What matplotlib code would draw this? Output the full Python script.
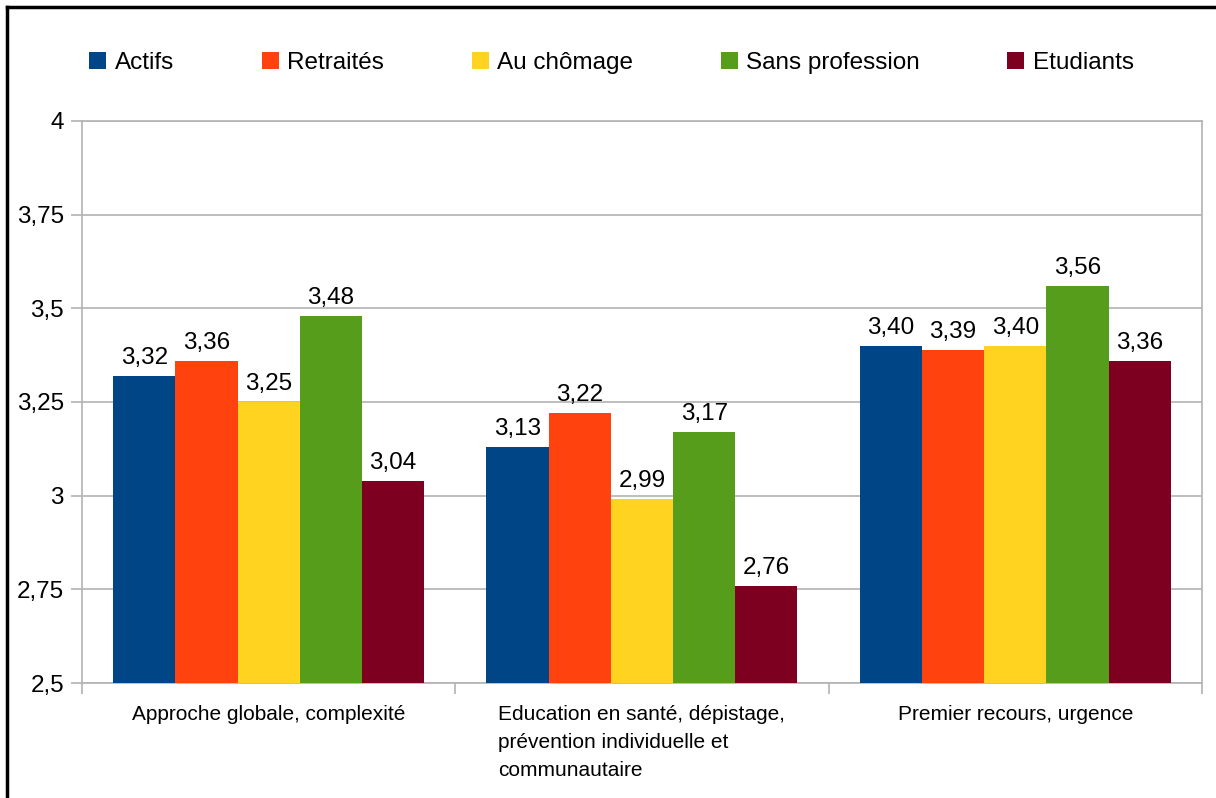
import matplotlib
matplotlib.use("Agg")
import matplotlib.pyplot as plt
import numpy as np
from matplotlib.lines import Line2D
from matplotlib.patches import Patch
from matplotlib.ticker import FixedLocator, FuncFormatter

plt.rcParams["font.family"] = ["Liberation Sans", "DejaVu Sans"]

# data
categories = [
    "Approche globale, complexité",
    "Education en santé, dépistage,\nprévention individuelle et\ncommunautaire",
    "Premier recours, urgence",
]
series_names = ["Actifs", "Retraités", "Au chômage", "Sans profession", "Etudiants"]
actifs = [3.32, 3.13, 3.40]
retraites = [3.36, 3.22, 3.39]
chomage = [3.25, 2.99, 3.40]
sans_profession = [3.48, 3.17, 3.56]
etudiants = [3.04, 2.76, 3.36]
y_ticks = [2.5, 2.75, 3, 3.25, 3.5, 3.75, 4]

series_values = [actifs, retraites, chomage, sans_profession, etudiants]
colors = ["#004586", "#ff420e", "#ffd320", "#579d1c", "#7e0021"]


def comma(v, pos=None):
    return ("%g" % v).replace(".", ",")


fig = plt.figure(figsize=(12.16, 7.98), dpi=100)
ax = fig.add_axes([0.0674, 0.1441, 0.921, 0.7043])

x = np.arange(len(categories))
n = len(series_names)
width = 1.0 / (n + 1)
for i, (name, vals) in enumerate(zip(series_names, series_values)):
    pos = x - 0.5 + width * (i + 1)
    bars = ax.bar(pos, vals, width=width, color=colors[i], label=name, zorder=3)
    for b, v in zip(bars, vals):
        ax.annotate(("%.2f" % v).replace(".", ","), (b.get_x() + b.get_width() / 2, v),
                    xytext=(0, 5), textcoords="offset points",
                    ha="center", va="bottom", fontsize=17.5, color="black")

ax.set_xlim(-0.5, len(categories) - 0.5)
ax.set_ylim(2.5, 4)
ax.yaxis.set_major_locator(FixedLocator(y_ticks))
ax.yaxis.set_major_formatter(FuncFormatter(comma))
ax.grid(axis="y", color="#b3b3b3", linewidth=1.2, zorder=0)

ax.set_xticks(x)
ax.set_xticklabels(categories, fontsize=15, multialignment="left", linespacing=1.6)
ax.set_xticks(np.arange(len(categories) + 1) - 0.5, minor=True)
ax.tick_params(axis="x", which="major", length=0, pad=16)
ax.tick_params(axis="x", which="minor", length=8, width=1.2, color="#b3b3b3")
ax.tick_params(axis="y", length=8, width=1.2, color="#b3b3b3", labelsize=17.5, pad=5)

for s in ax.spines.values():
    s.set_color("#b3b3b3")
    s.set_linewidth(1.2)

handles = [Patch(facecolor=c, edgecolor="none") for c in colors]
fig.legend(handles, series_names, loc="center", bbox_to_anchor=(0.503, 0.921),
           ncol=5, frameon=False, fontsize=17.5, handlelength=0.7, handleheight=0.7,
           handletextpad=0.35, columnspacing=3.6)

# frame of the original picture (top and left edges)
fig.add_artist(Line2D([0.0055, 1.0], [0.9915, 0.9915], transform=fig.transFigure,
                      color="black", linewidth=2.5))
fig.add_artist(Line2D([0.0055, 0.0055], [0.0, 0.9915], transform=fig.transFigure,
                      color="black", linewidth=2.5))

fig.savefig("out.png", dpi=100)
